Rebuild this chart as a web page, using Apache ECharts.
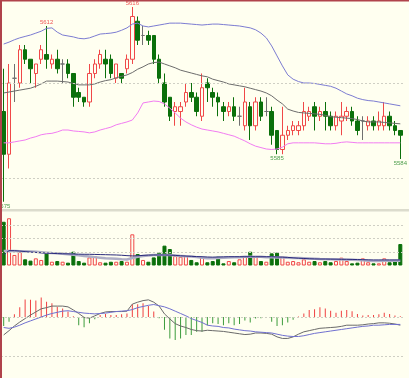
<!DOCTYPE html>
<html>
<head>
<meta charset="utf-8">
<script src="https://cdn.jsdelivr.net/npm/echarts@6/dist/echarts.min.js"></script>
<style>
  html, body { margin: 0; padding: 0; background: #fffff0; }
  #chart { width: 409px; height: 378px; }
</style>
</head>
<body>
<div id="chart"></div>
<script>
// each candle: [open, close, low, high]
const candles = [
  [5594,5585,5575,5603],[5585,5600,5582,5604],[5601,5601,5596,5604],[5600,5607,5599,5608],[5607,5605,5604,5608],
  [5605,5603,5600,5605],[5602,5604,5599,5604],[5605,5607,5604,5608],[5606,5605,5603,5612],[5604,5605,5603,5606],
  [5605,5603,5602,5607],[5604,5604,5600,5605],[5604,5602,5601,5605],[5602,5597,5595,5602],[5598,5597,5596,5599],
  [5597,5596,5595,5597],[5596,5602,5595,5604],[5602,5604,5601,5605],[5604,5606,5603,5607],[5605,5604,5601,5607],
  [5605,5602,5601,5606],[5601,5604,5600,5604],[5602,5601,5600,5602],[5603,5605,5602,5606],[5605,5614,5604,5616],
  [5613,5609,5608,5614],[5610,5610,5608,5612],[5610,5609,5608,5611],[5610,5605,5604,5610],[5605,5601,5600,5606],
  [5600,5596,5595,5602],[5597,5593,5592,5597],[5594,5595,5591,5596],[5594,5595,5591,5596],[5596,5598,5595,5600],
  [5598,5597,5596,5600],[5597,5594,5593,5598],[5593,5599,5592,5602],[5600,5599,5596,5601],[5598,5597,5595,5599],
  [5597,5596,5593,5598],[5595,5594,5592,5596],[5594,5595,5593,5596],[5595,5593,5592,5597],[5593,5593,5591,5595],
  [5591,5596,5590,5599],[5595,5591,5588,5596],[5591,5596,5590,5597],[5596,5593,5592,5597],[5594,5594,5593,5597],
  [5594,5589,5587,5595],[5590,5586,5585,5590],[5586,5589,5585,5595],[5589,5590,5588,5591],[5590,5591,5589,5592],
  [5590,5591,5589,5592],[5591,5594,5590,5596],[5593,5594,5592,5595],[5595,5593,5590,5596],[5593,5594,5592,5595],
  [5594,5593,5590,5596],[5593,5591,5590,5594],[5591,5593,5590,5594],[5592,5593,5589,5596],[5593,5594,5592,5595],
  [5594,5592,5591,5595],[5592,5590,5589,5593],[5592,5592,5588,5593],[5591,5592,5590,5593],[5592,5591,5590,5593],
  [5591,5592,5590,5594],[5591,5593,5590,5596],[5593,5591,5590,5594],[5591,5590,5589,5592],[5590,5589,5584,5590]
];
const bars = candles.map((_, i) => String(i + 1));

const bollUpper = [
  5608.2,5608.6,5609.1,5609.5,5609.8,5610.1,5610.5,5610.9,5611.5,5611.6,
  5610.7,5610.1,5609.9,5609.7,5609.4,5609.3,5609.5,5609.9,5610.3,5610.4,
  5610.5,5610.7,5611.1,5611.6,5612.4,5612.6,5612.0,5611.8,5612.0,5612.2,
  5612.4,5612.6,5612.6,5612.6,5612.5,5612.4,5612.3,5612.2,5612.3,5612.4,
  5612.4,5612.3,5612.2,5612.1,5612.0,5611.8,5611.6,5611.2,5610.5,5609.5,
  5607.8,5605.7,5603.6,5601.7,5600.8,5600.3,5600.0,5600.0,5599.9,5599.7,
  5599.5,5599.3,5598.9,5598.3,5597.7,5597.3,5596.8,5596.5,5596.3,5596.2,
  5596.0,5595.8,5595.6,5595.4,5595.2
];
const bollMid = [
  5597.9,5598.1,5598.3,5598.5,5598.7,5598.9,5599.3,5599.8,5600.4,5600.4,
  5600.4,5600.3,5600.2,5599.9,5599.6,5599.6,5599.6,5599.8,5600.2,5600.5,
  5600.7,5601.1,5601.4,5601.7,5602.2,5602.9,5603.4,5604.0,5604.3,5604.4,
  5604.0,5603.6,5603.2,5602.7,5602.4,5602.1,5601.8,5601.5,5601.3,5600.8,
  5600.5,5600.2,5599.8,5599.6,5599.4,5599.2,5598.9,5598.6,5598.3,5597.9,
  5597.3,5596.4,5595.6,5594.5,5594.1,5593.8,5593.7,5593.6,5593.5,5593.4,
  5593.2,5592.9,5592.8,5592.7,5592.6,5592.5,5592.3,5592.0,5591.8,5591.8,
  5591.8,5591.7,5591.6,5591.5,5591.4
];
const bollLower = [
  5587.4,5587.4,5587.6,5587.8,5588.0,5588.4,5588.7,5589.1,5589.3,5589.4,
  5589.7,5590.1,5590.1,5589.9,5589.8,5589.7,5589.5,5589.7,5590.1,5590.4,
  5590.7,5591.2,5591.5,5591.8,5592.2,5593.7,5595.8,5596.0,5596.2,5596.1,
  5595.6,5594.7,5593.7,5592.6,5591.8,5591.2,5590.7,5590.3,5590.1,5589.9,
  5589.7,5589.4,5589.1,5588.8,5588.3,5587.8,5587.2,5586.7,5586.4,5586.1,
  5586.0,5586.1,5586.5,5587.2,5587.4,5587.4,5587.4,5587.4,5587.4,5587.3,
  5587.2,5587.2,5587.3,5587.5,5587.6,5587.5,5587.4,5587.4,5587.4,5587.4,
  5587.4,5587.4,5587.4,5587.4,5587.4
];

const volumes = [
  3.24,3.5,0.78,1.02,0.46,0.36,0.53,0.41,0.98,0.28,
  0.33,0.28,0.21,1.02,0.33,0.21,0.6,0.7,0.24,0.21,
  0.28,0.28,0.33,0.28,2.31,0.85,0.41,0.28,0.6,0.95,
  1.47,1.22,0.7,0.65,0.7,0.41,0.24,0.6,0.24,0.33,
  0.65,0.16,0.33,0.24,0.46,0.7,1.02,0.65,0.33,0.28,
  0.9,0.95,0.65,0.28,0.33,0.24,0.46,0.28,0.33,0.24,
  0.33,0.24,0.33,0.58,0.33,0.16,0.21,0.53,0.24,0.16,
  0.16,0.53,0.24,0.41,1.59
];
const volMaShort = [
  0.8,1.1,1.1,1.07,1.03,1.0,0.97,0.94,0.91,0.9,
  0.88,0.87,0.86,0.85,0.84,0.83,0.83,0.82,0.81,0.8,
  0.79,0.78,0.76,0.73,0.71,0.72,0.75,0.77,0.78,0.78,
  0.78,0.77,0.75,0.72,0.7,0.68,0.66,0.65,0.63,0.62,
  0.63,0.64,0.65,0.65,0.65,0.65,0.65,0.65,0.65,0.65,
  0.65,0.63,0.62,0.6,0.57,0.54,0.52,0.5,0.49,0.48,
  0.48,0.47,0.47,0.46,0.46,0.45,0.44,0.43,0.42,0.41,
  0.41,0.41,0.41,0.41,0.41
];
const volMaLong = [
  1.07,1.07,1.07,1.06,1.05,1.03,1.01,0.98,0.95,0.92,
  0.9,0.87,0.84,0.8,0.75,0.7,0.66,0.62,0.58,0.54,
  0.52,0.5,0.47,0.45,0.55,0.65,0.7,0.74,0.78,0.78,
  0.78,0.77,0.74,0.71,0.68,0.66,0.62,0.57,0.54,0.54,
  0.56,0.58,0.6,0.61,0.62,0.64,0.65,0.65,0.64,0.62,
  0.61,0.6,0.59,0.57,0.56,0.55,0.54,0.52,0.5,0.48,
  0.47,0.46,0.45,0.44,0.43,0.42,0.41,0.38,0.36,0.34,
  0.34,0.35,0.35,0.35,0.35
];

const macdHist = [
  -0.23,-0.12,0.07,0.25,0.45,0.44,0.42,0.5,0.39,0.35,
  0.26,0.22,0.14,0.02,-0.21,-0.26,-0.16,-0.06,0.05,0.08,
  0.05,0.05,0.07,0.09,0.33,0.33,0.35,0.28,0.14,-0.03,
  -0.33,-0.55,-0.59,-0.55,-0.46,-0.46,-0.38,-0.38,-0.21,-0.16,
  -0.18,-0.21,-0.16,-0.21,-0.18,-0.09,-0.14,-0.04,-0.03,-0.01,
  -0.12,-0.23,-0.21,-0.14,-0.07,0.01,0.09,0.18,0.2,0.25,
  0.22,0.16,0.11,0.16,0.18,0.15,0.08,0.04,0.05,0.05,
  0.07,0.11,0.08,0.04,0.02
];
const macdDif = [
  -0.46,-0.35,-0.23,-0.13,-0.04,0.05,0.13,0.21,0.24,0.28,
  0.28,0.28,0.26,0.18,0.09,-0.01,-0.03,0.03,0.09,0.13,
  0.14,0.14,0.14,0.15,0.33,0.38,0.42,0.44,0.38,0.28,
  0.08,-0.05,-0.17,-0.23,-0.27,-0.32,-0.35,-0.36,-0.34,-0.35,
  -0.36,-0.37,-0.39,-0.41,-0.43,-0.45,-0.44,-0.41,-0.41,-0.42,
  -0.44,-0.51,-0.55,-0.55,-0.51,-0.44,-0.38,-0.35,-0.32,-0.29,
  -0.28,-0.27,-0.26,-0.24,-0.21,-0.21,-0.21,-0.2,-0.18,-0.17,
  -0.15,-0.15,-0.16,-0.18,-0.21
];
const macdDea = [
  -0.27,-0.29,-0.26,-0.21,-0.15,-0.1,-0.05,0,0.05,0.09,
  0.12,0.15,0.16,0.14,0.12,0.1,0.09,0.08,0.09,0.1,
  0.12,0.14,0.15,0.16,0.19,0.24,0.27,0.3,0.32,0.29,
  0.26,0.21,0.15,0.09,0.03,-0.04,-0.09,-0.14,-0.21,-0.23,
  -0.24,-0.27,-0.28,-0.31,-0.33,-0.35,-0.36,-0.38,-0.39,-0.4,
  -0.41,-0.44,-0.47,-0.49,-0.5,-0.5,-0.48,-0.45,-0.42,-0.4,
  -0.38,-0.36,-0.34,-0.32,-0.3,-0.28,-0.26,-0.24,-0.23,-0.21,
  -0.21,-0.2,-0.19,-0.19,-0.19
];

// labelled extremes (indexes into candles)
const peakIdx = [8, 24];
const troughIdx = [0, 51, 74];
const priceGuides = [5600, 5580];
const volGuides = [1, 2, 3];
const macdGuides = [0, -1];

const UP = '#f04848';
const DOWN = '#0b700b';
const BG = '#fffff0';
const guideStyle = { color: '#cfcfc4', type: [2, 2], width: 1 };

function guides(vals) {
  return {
    silent: true,
    symbol: 'none',
    label: { show: false },
    lineStyle: guideStyle,
    data: vals.map((v) => ({ yAxis: v }))
  };
}

const chart = echarts.init(document.getElementById('chart'));

const xAxisBase = {
  type: 'category',
  data: bars,
  boundaryGap: true,
  axisLine: { show: false },
  axisTick: { show: false },
  axisLabel: { show: false },
  splitLine: { show: false }
};
const yAxisBase = {
  axisLine: { show: false },
  axisTick: { show: false },
  axisLabel: { show: false },
  splitLine: { show: false }
};

const volData = volumes.map((v, i) => {
  const rising = candles[i][1] >= candles[i][0];
  return {
    value: v,
    itemStyle: rising
      ? { color: BG, borderColor: UP, borderWidth: 1 }
      : { color: DOWN, borderColor: DOWN, borderWidth: 1 }
  };
});

const histData = macdHist.map((v) => ({
  value: v,
  itemStyle: { color: v >= 0 ? '#f04040' : '#3c9c3c' }
}));

const extremeLabels = peakIdx
  .map((i) => ({
    coord: [i, candles[i][3]],
    value: candles[i][3],
    label: { position: 'top', distance: 0, color: '#ef5656' }
  }))
  .concat(troughIdx.map((i) => ({
    coord: [i, candles[i][2]],
    value: candles[i][2],
    label: { position: 'bottom', distance: 1, color: '#4e9e4e' }
  })));

const option = {
  backgroundColor: BG,
  animation: false,
  grid: [
    { left: 1, width: 402, top: 2, height: 208 },
    { left: 1, width: 402, top: 211.5, height: 54 },
    { left: 1, width: 402, top: 278, height: 78 }
  ],
  xAxis: [
    Object.assign({ gridIndex: 0 }, xAxisBase),
    Object.assign({ gridIndex: 1 }, xAxisBase),
    Object.assign({ gridIndex: 2 }, xAxisBase)
  ],
  yAxis: [
    Object.assign({ gridIndex: 0, min: 5573.26, max: 5617.05 }, yAxisBase),
    Object.assign({ gridIndex: 1, min: 0, max: 4 }, yAxisBase),
    Object.assign({ gridIndex: 2, min: -1, max: 1 }, yAxisBase)
  ],
  graphic: [
    { type: 'rect', shape: { x: 0, y: 209, width: 409, height: 2.5 }, style: { fill: '#dcdccd' }, z: 100 },
    { type: 'rect', shape: { x: 0, y: 0, width: 2, height: 378 }, style: { fill: '#b0434b' }, z: 100 },
    { type: 'rect', shape: { x: 0, y: 0, width: 409, height: 1.5 }, style: { fill: '#b0434b' }, z: 100 }
  ],
  series: [
    {
      type: 'candlestick',
      xAxisIndex: 0, yAxisIndex: 0,
      data: candles,
      barWidth: 4,
      itemStyle: {
        color: BG, color0: DOWN,
        borderColor: UP, borderColor0: DOWN,
        borderColorDoji: '#707070',
        borderWidth: 1
      },
      markLine: guides(priceGuides),
      markPoint: {
        symbol: 'circle',
        symbolSize: 1,
        itemStyle: { color: 'rgba(0,0,0,0)' },
        label: { show: true, fontSize: 6, lineHeight: 6, fontFamily: 'Liberation Sans', formatter: '{c}' },
        data: extremeLabels
      }
    },
    { type: 'line', xAxisIndex: 0, yAxisIndex: 0, data: bollUpper, symbol: 'none', lineStyle: { color: '#7c7cd2', width: 1 }, z: 3 },
    { type: 'line', xAxisIndex: 0, yAxisIndex: 0, data: bollMid, symbol: 'none', lineStyle: { color: '#6c6c6c', width: 1 }, z: 3 },
    { type: 'line', xAxisIndex: 0, yAxisIndex: 0, data: bollLower, symbol: 'none', lineStyle: { color: '#f27cf2', width: 1 }, z: 3 },
    {
      type: 'bar',
      xAxisIndex: 1, yAxisIndex: 1,
      data: volData,
      barWidth: 4,
      markLine: guides(volGuides)
    },
    { type: 'line', xAxisIndex: 1, yAxisIndex: 1, data: volMaLong, symbol: 'none', lineStyle: { color: '#aeaec6', width: 2.5 }, z: 3 },
    { type: 'line', xAxisIndex: 1, yAxisIndex: 1, data: volMaShort, symbol: 'none', lineStyle: { color: '#2a2a7c', width: 1 }, z: 4 },
    {
      type: 'bar',
      xAxisIndex: 2, yAxisIndex: 2,
      data: histData,
      barWidth: 1,
      markLine: guides(macdGuides)
    },
    { type: 'line', xAxisIndex: 2, yAxisIndex: 2, data: macdDif, symbol: 'none', lineStyle: { color: '#6a6a6a', width: 1 }, z: 3 },
    { type: 'line', xAxisIndex: 2, yAxisIndex: 2, data: macdDea, symbol: 'none', lineStyle: { color: '#7070d0', width: 1 }, z: 3 }
  ]
};

chart.setOption(option);
</script>
</body>
</html>
